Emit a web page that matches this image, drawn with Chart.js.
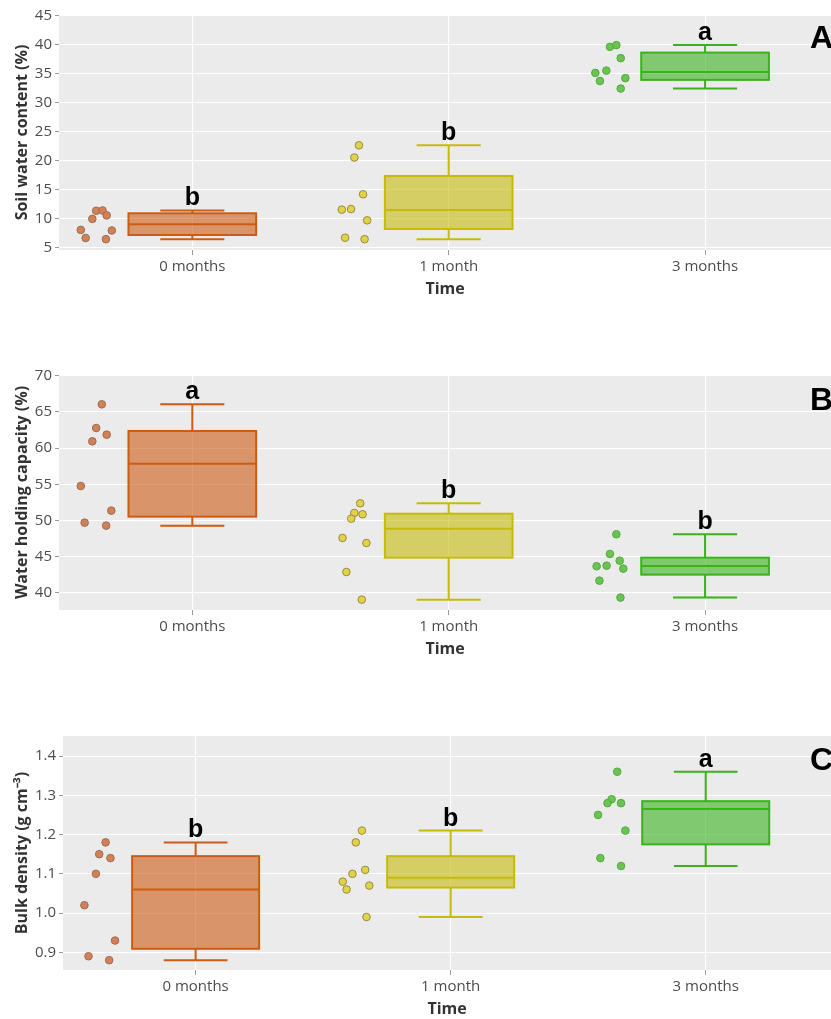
<!DOCTYPE html>
<html>
<head>
<meta charset="utf-8">
<script src="https://cdn.jsdelivr.net/npm/chart.js@4.4.1/dist/chart.umd.min.js"></script>
<style>
  html, body { margin: 0; padding: 0; background: #ffffff; width: 831px; height: 1019px; overflow: hidden; }
  .panel { position: absolute; left: 0; width: 831px; height: 300px; overflow: hidden; }
</style>
</head>
<body>
<div class="panel" style="top:0px"><canvas id="chartA" width="836" height="300"></canvas></div>
<div class="panel" style="top:360px"><canvas id="chartB" width="836" height="300"></canvas></div>
<div class="panel" style="top:720px"><canvas id="chartC" width="836" height="300"></canvas></div>
<script>
// ---- shared categories ----
const categories = ['0 months', '1 month', '3 months'];
const xTitle = 'Time';

// ---- A: soil water content (%) ----
const swcTicks = [5, 10, 15, 20, 25, 30, 35, 40, 45];
const swc0 = [8.0, 6.6, 9.9, 11.3, 11.35, 10.5, 7.9, 6.4];
const swc1 = [22.6, 20.5, 14.15, 11.5, 11.6, 9.65, 6.65, 6.4];
const swc2 = [39.6, 39.9, 37.65, 35.1, 35.5, 33.7, 34.2, 32.4];
const swcJit0 = [-0.435, -0.416, -0.390, -0.375, -0.350, -0.334, -0.314, -0.337];
const swcJit1 = [-0.350, -0.368, -0.334, -0.417, -0.381, -0.318, -0.404, -0.328];
const swcJit2 = [-0.371, -0.346, -0.329, -0.428, -0.385, -0.410, -0.311, -0.329];
const swcQ1 = [7.12, 8.16, 33.9];
const swcMed = [8.97, 11.44, 35.28];
const swcQ3 = [10.87, 17.31, 38.61];
const swcLetters = ['b', 'b', 'a'];

// ---- B: water holding capacity (%) ----
const whcTicks = [40, 45, 50, 55, 60, 65, 70];
const whc0 = [66.05, 62.78, 61.86, 60.94, 54.77, 51.37, 49.71, 49.3];
const whc1 = [52.38, 51.05, 50.87, 50.26, 47.6, 46.9, 42.9, 39.08];
const whc2 = [48.1, 45.39, 44.46, 43.69, 43.77, 43.36, 41.7, 39.36];
const whcJit0 = [-0.353, -0.375, -0.334, -0.390, -0.435, -0.316, -0.420, -0.336];
const whcJit1 = [-0.345, -0.368, -0.336, -0.380, -0.414, -0.321, -0.399, -0.339];
const whcJit2 = [-0.346, -0.371, -0.333, -0.423, -0.384, -0.319, -0.412, -0.330];
const whcQ1 = [50.54, 44.88, 42.53];
const whcMed = [57.85, 48.88, 43.73];
const whcQ3 = [62.37, 50.95, 44.88];
const whcLetters = ['a', 'b', 'b'];

// ---- C: bulk density (g cm-3) ----
const bdTicks = [0.9, 1.0, 1.1, 1.2, 1.3, 1.4];
const bdTickLabels = ['0.9', '1.0', '1.1', '1.2', '1.3', '1.4'];
const bd0 = [1.18, 1.15, 1.14, 1.10, 1.02, 0.93, 0.89, 0.88];
const bd1 = [1.21, 1.18, 1.11, 1.10, 1.08, 1.06, 1.07, 0.99];
const bd2 = [1.36, 1.29, 1.28, 1.28, 1.25, 1.21, 1.14, 1.12];
const bdJit0 = [-0.353, -0.378, -0.334, -0.391, -0.436, -0.316, -0.420, -0.339];
const bdJit1 = [-0.348, -0.372, -0.335, -0.385, -0.423, -0.408, -0.319, -0.330];
const bdJit2 = [-0.347, -0.369, -0.385, -0.332, -0.422, -0.315, -0.413, -0.332];
const bdQ1 = [0.909, 1.065, 1.175];
const bdMed = [1.06, 1.09, 1.265];
const bdQ3 = [1.145, 1.145, 1.285];
const bdLetters = ['b', 'b', 'a'];

// ---- colours per time group ----
const lineColors = ['rgb(205,92,18)', 'rgb(198,186,12)', 'rgb(58,178,30)'];
const fillColors = ['rgba(205,92,18,0.6)', 'rgba(198,186,12,0.6)', 'rgba(58,178,30,0.6)'];
const dotColors = ['rgb(212,128,82)', 'rgb(226,210,70)', 'rgb(104,198,80)'];
const dotBorders = ['rgb(150,112,92)', 'rgb(150,140,70)', 'rgb(86,168,66)'];

const TICK_FONT = { family: '"Open Sans", sans-serif', size: 15 };
const TITLE_FONT = { family: '"Open Sans", sans-serif', size: 16, weight: 'bold' };

// Box-and-whisker drawing, significance letters and panel tag
const boxPlugin = {
  id: 'boxes',
  beforeDraw(chart) {
    const { ctx, chartArea: a } = chart;
    ctx.save();
    ctx.fillStyle = '#ebebeb';
    ctx.fillRect(a.left, a.top, a.right - a.left, a.bottom - a.top);
    ctx.restore();
  },
  beforeDatasetsDraw(chart, args, o) {
    const { ctx } = chart;
    const xs = chart.scales.x, ys = chart.scales.y;
    ctx.save();
    for (let i = 0; i < o.groups.length; i++) {
      const vals = o.groups[i];
      const lo = Math.min(...vals), hi = Math.max(...vals);
      const xl = xs.getPixelForValue(i - 0.249), xr = xs.getPixelForValue(i + 0.249);
      const cl = xs.getPixelForValue(i - 0.125), cr = xs.getPixelForValue(i + 0.125);
      const xc = xs.getPixelForValue(i);
      const yq1 = ys.getPixelForValue(o.q1[i]), yq3 = ys.getPixelForValue(o.q3[i]);
      const ym = ys.getPixelForValue(o.med[i]);
      const ylo = ys.getPixelForValue(lo), yhi = ys.getPixelForValue(hi);
      ctx.strokeStyle = lineColors[i];
      ctx.lineWidth = 2;
      ctx.fillStyle = fillColors[i];
      ctx.fillRect(xl, yq3, xr - xl, yq1 - yq3);
      ctx.strokeRect(xl, yq3, xr - xl, yq1 - yq3);
      ctx.beginPath();
      ctx.moveTo(xl, ym); ctx.lineTo(xr, ym);
      ctx.moveTo(xc, yq3); ctx.lineTo(xc, yhi);
      ctx.moveTo(cl, yhi); ctx.lineTo(cr, yhi);
      ctx.moveTo(xc, yq1); ctx.lineTo(xc, ylo);
      ctx.moveTo(cl, ylo); ctx.lineTo(cr, ylo);
      ctx.stroke();
    }
    ctx.restore();
  },
  afterDatasetsDraw(chart, args, o) {
    const { ctx } = chart;
    const xs = chart.scales.x, ys = chart.scales.y;
    ctx.save();
    ctx.fillStyle = '#000';
    ctx.textAlign = 'center';
    ctx.textBaseline = 'alphabetic';
    ctx.font = 'bold 25px "Liberation Sans", Arial, sans-serif';
    for (let i = 0; i < o.groups.length; i++) {
      const hi = Math.max(...o.groups[i]);
      ctx.fillText(o.letters[i], xs.getPixelForValue(i), ys.getPixelForValue(hi) - 5);
    }
    ctx.textAlign = 'left';
    ctx.font = 'bold 32px "Liberation Sans", Arial, sans-serif';
    ctx.fillText(o.tag, o.tagX, o.tagY);
    ctx.restore();
  }
};

function makePanel(id, cfg) {
  const datasets = cfg.groups.map((vals, i) => ({
    type: 'scatter',
    data: vals.map((v, k) => ({ x: i + cfg.jitter[i][k], y: v })),
    backgroundColor: dotColors[i],
    borderColor: dotBorders[i],
    borderWidth: 1,
    pointRadius: 3.8,
    pointHoverRadius: 3.8
  }));
  return new Chart(document.getElementById(id), {
    type: 'scatter',
    data: { datasets },
    plugins: [boxPlugin],
    options: {
      responsive: false,
      animation: false,
      devicePixelRatio: 1,
      events: [],
      layout: { padding: { top: cfg.top, right: 0, bottom: 0, left: 0 } },
      plugins: {
        legend: { display: false },
        tooltip: { enabled: false },
        boxes: {
          groups: cfg.groups, q1: cfg.q1, med: cfg.med, q3: cfg.q3,
          letters: cfg.letters, tag: cfg.tag, tagX: 810, tagY: cfg.tagY
        }
      },
      scales: {
        x: {
          type: 'linear',
          min: -0.52, max: 2.492,
          afterBuildTicks: s => { s.ticks = categories.map((c, i) => ({ value: i })); },
          afterFit: s => { s.height = 50; },
          ticks: {
            callback: v => categories[v],
            font: TICK_FONT, color: '#4d4d4d', padding: 3,
            maxRotation: 0, autoSkip: false
          },
          grid: { color: '#ffffff', lineWidth: 1, tickColor: '#9a9a9a', tickLength: 5 },
          border: { display: false },
          title: { display: true, text: xTitle, font: TITLE_FONT, color: '#333333', padding: { top: 0, bottom: 1 } }
        },
        y: {
          type: 'linear',
          min: cfg.yMin, max: cfg.yMax,
          afterBuildTicks: s => { s.ticks = cfg.ticks.map(v => ({ value: v })); },
          afterFit: s => { s.width = cfg.left; },
          ticks: {
            callback: (v, idx) => cfg.tickLabels[idx],
            font: TICK_FONT, color: '#4d4d4d', padding: 3
          },
          grid: { color: '#ffffff', lineWidth: 1, tickColor: '#9a9a9a', tickLength: 4 },
          border: { display: false },
          title: { display: true, text: cfg.yTitle, font: TITLE_FONT, color: '#333333', padding: { top: 13, bottom: 0 } }
        }
      }
    }
  });
}

makePanel('chartA', {
  groups: [swc0, swc1, swc2], jitter: [swcJit0, swcJit1, swcJit2],
  q1: swcQ1, med: swcMed, q3: swcQ3, letters: swcLetters,
  ticks: swcTicks, tickLabels: swcTicks.map(String),
  yMin: 4.53, yMax: 45.1, yTitle: 'Soil water content (%)',
  tag: 'A', tagY: 48, top: 15, left: 59
});

makePanel('chartB', {
  groups: [whc0, whc1, whc2], jitter: [whcJit0, whcJit1, whcJit2],
  q1: whcQ1, med: whcMed, q3: whcQ3, letters: whcLetters,
  ticks: whcTicks, tickLabels: whcTicks.map(String),
  yMin: 37.65, yMax: 70.1, yTitle: 'Water holding capacity (%)',
  tag: 'B', tagY: 50, top: 15, left: 59
});

makePanel('chartC', {
  groups: [bd0, bd1, bd2], jitter: [bdJit0, bdJit1, bdJit2],
  q1: bdQ1, med: bdMed, q3: bdQ3, letters: bdLetters,
  ticks: bdTicks, tickLabels: bdTickLabels,
  yMin: 0.855, yMax: 1.451, yTitle: 'Bulk density (g cm\u207B\u00B3)',
  tag: 'C', tagY: 50, top: 16, left: 63
});
</script>
</body>
</html>
